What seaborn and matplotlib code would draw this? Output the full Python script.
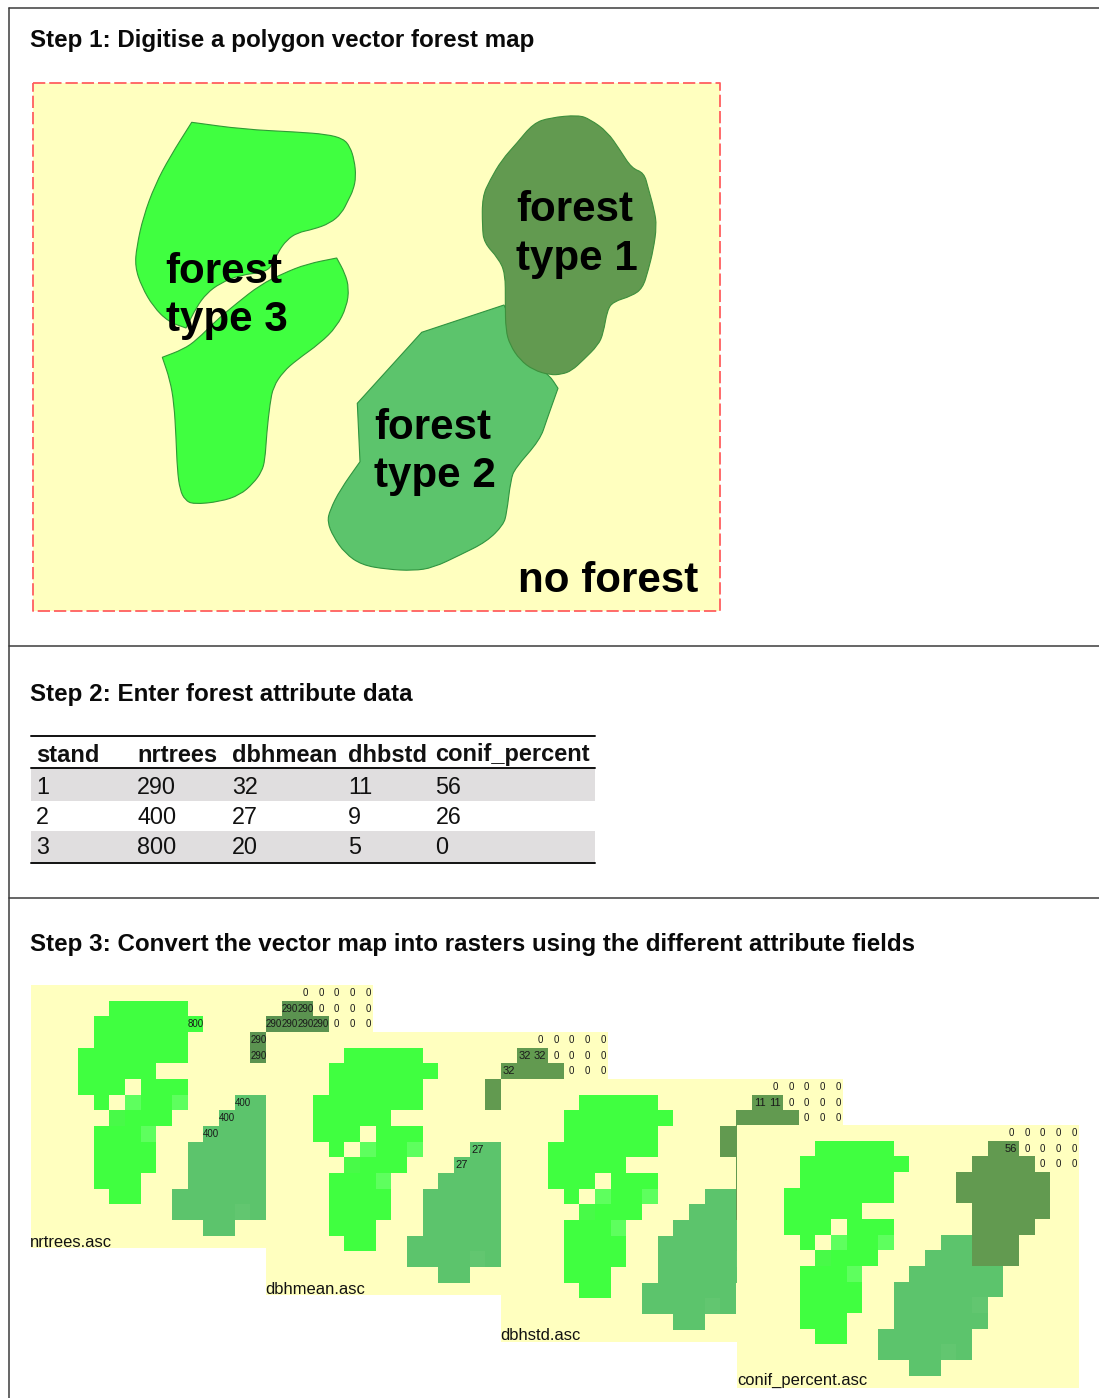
import numpy as np
import matplotlib
matplotlib.use("Agg")
import matplotlib.pyplot as plt
from matplotlib.colors import ListedColormap
from matplotlib.patches import PathPatch
from matplotlib.path import Path
import seaborn as sns

W, H = 1099, 1398

# attribute table
stand = [1, 2, 3]
nrtrees = [290, 400, 800]
dbhmean = [32, 27, 20]
dhbstd = [11, 9, 5]
conif_percent = [56, 26, 0]
table_header = ["stand", "nrtrees", "dbhmean", "dhbstd", "conif_percent"]

titles = ["Step 1: Digitise a polygon vector forest map",
          "Step 2: Enter forest attribute data",
          "Step 3: Convert the vector map into rasters using the different attribute fields"]

# polygons, traced in image pixels (a repeated point stays a sharp corner)
type3_top_x = [191.7, 191.7, 243.3, 296.7, 326.7, 343.3, 350, 354.3, 356, 353.3, 348.3, 341.7, 330, 313.3, 297.3, 286.7,
               278.3, 273.3, 266, 240, 220, 206.7, 196.7, 186, 186, 168.3, 153.3, 141.7, 135, 136.7, 143.3, 155, 170]
type3_top_y = [122.3, 122.3, 129.3, 132, 134.3, 138.7, 146.7, 160, 176.7, 190, 200, 213.3, 223.3, 229.3, 232.7, 240,
               251.7, 263.3, 272, 275, 283.3, 293.3, 306.7, 328, 328, 321.7, 306.7, 286.7, 266.7, 246.7, 216.7, 185, 156.7]
type3_low_x = [336.7, 336.7, 345, 349, 346.7, 336.7, 320, 296.7, 283.3, 273.3, 270, 266.7, 265, 261.7, 253.3, 240, 220,
               193.3, 185, 180, 177.3, 176, 174, 170, 162.3, 162.3, 183.3, 196.7, 216.7, 236.7, 260, 283.3, 306.7]
type3_low_y = [258, 258, 273.3, 288.3, 306.7, 326.7, 343.3, 360, 371.7, 386.7, 403.3, 433.3, 460, 471.7, 483.3, 495,
               501.7, 504.3, 500, 490, 470, 436.7, 403.3, 380, 357.3, 357.3, 349.3, 340, 320, 303.3, 285, 273.3, 264]
type1_x = [578.3, 590, 607.3, 620, 631.7, 644, 648.3, 654.3, 656.7, 653.3, 648.3, 642.7, 631.7, 613.3, 607.3, 603.3,
           598.3, 583.3, 571.7, 561.7, 550, 533.3, 520, 510, 505.7, 505.3, 505.3, 498.3, 484, 482.3, 482.3, 490,
           501.7, 516.7, 533.3, 550]
type1_y = [115, 119.3, 131.7, 150, 168.3, 172.7, 188.3, 210, 226, 250, 270, 288.3, 296, 301.7, 310, 333.3,
           345, 360, 370.7, 374.3, 375, 370, 360, 345, 330, 303.3, 273.3, 258.3, 242.7, 226.7, 196.7, 180,
           160, 143.3, 123.3, 117.7]
type2_x = [504, 504, 421.7, 421.7, 357.3, 357.3, 360, 360, 340, 330, 327.3, 333.3, 345, 361.7, 386.7, 413.3, 433.3, 460,
           486.7, 503.3, 506.7, 510.7, 515, 540, 546.7, 558, 558, 549.3, 530]
type2_y = [305, 305, 332.3, 332.3, 403.3, 403.3, 461.7, 461.7, 490, 510, 521.7, 536.7, 553.3, 565, 569.3, 570.7, 567.7, 555,
           541.7, 525, 513.3, 480, 468.3, 440, 420, 388.3, 388.3, 375, 360]

# raster cells: 0 none, 1-3 forest type, 4 5 lighter type 3 cells, 6 lighter type 2 cell
raster_rows = ["0000000000000000000000",
               "0000033333000000110000",
               "0000333333300001111000",
               "0000333333000011111100",
               "0003333333000011111100",
               "0003333300000001111100",
               "0003330333000001111000",
               "0000304334000221110000",
               "0000053330002221110000",
               "0000333400022222200000",
               "0000333300222222200000",
               "0000333300222226000000",
               "0000333000222222000000",
               "0000033002222220000000",
               "0000000002222620000000",
               "0000000000022000000000",
               "0000000000000000000000"]
cell_stand = {1: 0, 2: 1, 3: 2, 4: 2, 5: 2, 6: 1}

# cells that still show their number
zero_cells = [(0, 17), (0, 18), (0, 19), (0, 20), (0, 21), (1, 18), (1, 19), (1, 20), (1, 21), (2, 19), (2, 20), (2, 21)]
nrtrees_cells = [(1, 16), (1, 17), (2, 15), (2, 16), (2, 17), (2, 18), (3, 14), (4, 14), (2, 10), (7, 13), (8, 12), (9, 11)]
dbhmean_cells = [(1, 16), (1, 17), (2, 15), (7, 13), (8, 12)]
dhbstd_cells = [(1, 16), (1, 17)]
conif_cells = [(1, 17)]

raster_names = ["nrtrees.asc", "dbhmean.asc", "dbhstd.asc", "conif_percent.asc"]
raster_values = [nrtrees, dbhmean, dhbstd, conif_percent]
raster_cells = [nrtrees_cells, dbhmean_cells, dhbstd_cells, conif_cells]
raster_left = [31, 266, 501, 737]
raster_top = [985, 1032, 1079, 1125]
label_x = [29.5, 265.5, 500.5, 737.5]
label_base = [1247, 1293.5, 1339.5, 1385]
num_size = [7.0, 8.0, 8.0, 8.0]

BG = "#FFFFBF"
T1, T2, T3 = "#629A50", "#5CC46C", "#40FF40"


def smooth_patch(xs, ys, face, edge):
    # quadratic curves through the edge midpoints, the traced points are the controls
    pts = np.column_stack([xs, ys])
    mids = (pts + np.roll(pts, -1, axis=0)) / 2
    verts = [mids[-1]]
    codes = [Path.MOVETO]
    for p, m in zip(pts, mids):
        verts += [p, m]
        codes += [Path.CURVE3, Path.CURVE3]
    return PathPatch(Path(verts, codes), facecolor=face, edgecolor=edge, lw=0.8)


sns.set_theme(style="white")
plt.rcParams["font.family"] = ["Liberation Sans", "DejaVu Sans"]

fig = plt.figure(figsize=(W / 100, H / 100), dpi=100, facecolor="white")
ax = fig.add_axes([0, 0, 1, 1])
ax.set_xlim(0, W)
ax.set_ylim(H, 0)
ax.axis("off")

# section frame
ax.plot([9, 9], [8, H], color="#3c3c3c", lw=1.1)
for y in [8, 646, 898]:
    ax.plot([9, W], [y, y], color="#3c3c3c", lw=1.1)

title_base = [46.5, 701.5, 950.5]
for t, y in zip(titles, title_base):
    ax.text(30, y, t, fontsize=17.38, fontweight="bold", va="baseline", color="#0a0a0a")

# step 1 map
ax.fill([33, 720, 720, 33], [83, 83, 611, 611], facecolor=BG, edgecolor="none")
ax.plot([33, 720, 720, 33, 33], [83, 83, 611, 611, 83], color="#FF5F5F", lw=1.3, dashes=(6.8, 2.2))
ax.add_patch(smooth_patch(type3_top_x, type3_top_y, T3, "#2f9a35"))
ax.add_patch(smooth_patch(type3_low_x, type3_low_y, T3, "#2f9a35"))
ax.add_patch(smooth_patch(type2_x, type2_y, T2, "#2f9440"))
ax.add_patch(smooth_patch(type1_x, type1_y, T1, "#3d8f3d"))

map_words = [("forest", 165.5, 282.7), ("type 3", 165.5, 331), ("forest", 516.5, 221), ("type 1", 516.5, 270),
             ("forest", 374.5, 439), ("type 2", 374.5, 487.5), ("no forest", 518.5, 592)]
for word, x, y in map_words:
    ax.text(x, y, word, fontsize=30.3, fontweight="bold", va="baseline", color="black")

# step 2 table
col_x = [36, 137, 232, 348, 435.5]
ax.fill([31, 595, 595, 31], [769, 769, 800.5, 800.5], color="#E0DEDF", lw=0)
ax.fill([31, 595, 595, 31], [830.5, 830.5, 862, 862], color="#E0DEDF", lw=0)
for y in [736, 768, 862.5]:
    ax.plot([31, 595], [y, y], color="#111111", lw=1.4)
for x, h in zip(col_x, table_header):
    ax.text(x, 761.5, h, fontsize=17.0, fontweight="bold", va="baseline", color="#111111")
rows = list(zip(stand, nrtrees, dbhmean, dhbstd, conif_percent))
for base, row in zip([794.5, 824.5, 854.5], rows):
    for x, v in zip(col_x, row):
        ax.text(x, base, str(v), fontsize=16.8, va="baseline", color="#111111")

# step 3 rasters, each one laid over the one before
grid = np.array([[int(c) for c in r] for r in raster_rows])
colors = [BG, T1, T2, T3, "#5EFF5E", "#48FA48", "#62C670"]
for i in range(4):
    annot = np.full(grid.shape, "", dtype=object)
    for r, c in zero_cells:
        annot[r, c] = "0"
    for r, c in raster_cells[i]:
        annot[r, c] = str(raster_values[i][cell_stand[grid[r, c]]])
    rax = fig.add_axes([raster_left[i] / W, 1 - (raster_top[i] + 262.7) / H, 341.7 / W, 262.7 / H])
    cols = list(colors)
    if i == 0:
        cols[1] = "#5B9350"
    sns.heatmap(grid, ax=rax, cmap=ListedColormap(cols), vmin=0, vmax=6, cbar=False, annot=annot, fmt="",
                xticklabels=False, yticklabels=False, linewidths=0,
                annot_kws={"color": "#1a1a1a", "fontsize": num_size[i]})
    for txt in rax.texts:
        if txt.get_text() == "0":
            txt.set_fontsize(7.0)
    rax.set_xlim(0, 341.7 / 15.67)
    rax.set_ylim(262.7 / 15.67, 0)
    fig.text(label_x[i] / W, 1 - label_base[i] / H, raster_names[i], fontsize=11.9, va="baseline", color="#111111")

fig.savefig("out.png", dpi=100)
